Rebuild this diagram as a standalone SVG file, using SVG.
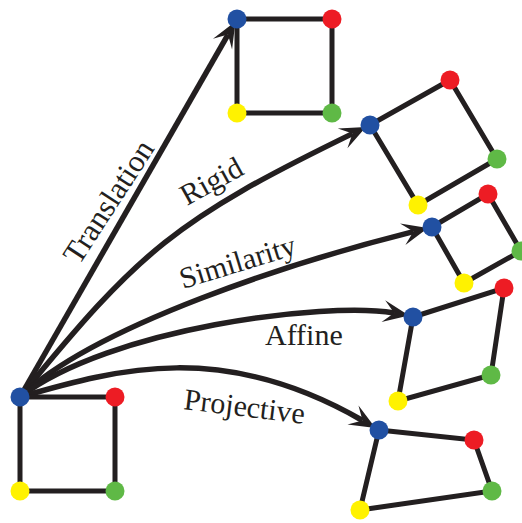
<svg xmlns="http://www.w3.org/2000/svg" width="522" height="523" viewBox="0 0 522 523">
<style>
.edge{stroke:#231f20;stroke-width:5;fill:none;stroke-linecap:round}
.arrow{stroke:#231f20;stroke-width:5.5;fill:none;marker-end:url(#ah)}
.b{fill:#2150a2}.r{fill:#ed1c24}.y{fill:#fff200}.g{fill:#5fb946}
.lbl{font-family:"Liberation Serif","Times New Roman",serif;font-size:30px;fill:#231f20}
</style>
<defs>
<marker id="ah" markerUnits="userSpaceOnUse" refX="0" refY="0" markerWidth="40" markerHeight="40" orient="auto" overflow="visible">
<path d="M15,0 L-11,-11 L0,0 L-11,11 Z" fill="#231f20"/>
</marker>
</defs>
<g id="connectors">
<path class="arrow" d="M20,397 L228,34.6"/>
<path class="arrow" d="M20,397 C140,250 175,220 352.5,133.6"/>
<path class="arrow" d="M20,397 C95,325 297,260.8 413.4,231.6"/>
<path class="arrow" d="M20,397 C110,328 325,301.4 394.2,313"/>
<path class="arrow" d="M20,397 C120,368 224,340.5 362.5,420.5"/>
<g id="labels">
<text class="lbl" style="font-size:31px" transform="translate(79,266) rotate(-57)">Translation</text>
<text class="lbl" transform="translate(187,206) rotate(-29)">Rigid</text>
<text class="lbl" transform="translate(183,289) rotate(-17)">Similarity</text>
<text class="lbl" x="265" y="345">Affine</text>
<text class="lbl" transform="translate(183,409) rotate(7)">Projective</text>
</g>
</g>
<g id="source">
<path class="edge" d="M20,397 L115,397 L115,491 L20,491 Z"/>
<circle class="b" cx="20" cy="397" r="9.5"/><circle class="r" cx="115" cy="397" r="9.5"/>
<circle class="g" cx="115" cy="491" r="9.5"/><circle class="y" cx="20" cy="491" r="9.5"/>
</g>
<g id="translation">
<path class="edge" d="M237,19 L332,19 L332,113 L237,113 Z"/>
<circle class="b" cx="237" cy="19" r="9.5"/><circle class="r" cx="332" cy="19" r="9.5"/>
<circle class="g" cx="332" cy="113" r="9.5"/><circle class="y" cx="237" cy="113" r="9.5"/>
</g>
<g id="rigid">
<path class="edge" d="M370,125 L450,80 L497,159 L418,205 Z"/>
<circle class="b" cx="370" cy="125" r="9.5"/><circle class="r" cx="450" cy="80" r="9.5"/>
<circle class="g" cx="497" cy="159" r="9.5"/><circle class="y" cx="418" cy="205" r="9.5"/>
</g>
<g id="similarity">
<path class="edge" d="M432,227 L488,194 L521,251 L464,283 Z"/>
<circle class="b" cx="432" cy="227" r="9.5"/><circle class="r" cx="488" cy="194" r="9.5"/>
<circle class="g" cx="521" cy="251" r="9.5"/><circle class="y" cx="464" cy="283" r="9.5"/>
</g>
<g id="affine">
<path class="edge" d="M413,317 L504,288 L491,375 L398,401 Z"/>
<circle class="b" cx="413" cy="317" r="9.5"/><circle class="r" cx="504" cy="288" r="9.5"/>
<circle class="g" cx="491" cy="375" r="9.5"/><circle class="y" cx="398" cy="401" r="9.5"/>
</g>
<g id="projective">
<path class="edge" d="M379,430 L474,440 L492,491 L360,510 Z"/>
<circle class="b" cx="379" cy="430" r="9.5"/><circle class="r" cx="474" cy="440" r="9.5"/>
<circle class="g" cx="492" cy="491" r="9.5"/><circle class="y" cx="360" cy="510" r="9.5"/>
</g>
</svg>
